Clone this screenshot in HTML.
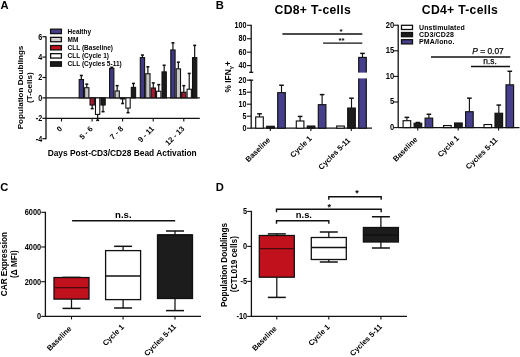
<!DOCTYPE html>
<html><head><meta charset="utf-8"><style>
html,body{margin:0;padding:0;background:#fff;}
svg{display:block;will-change:transform;}
</style></head><body>
<svg width="520" height="357" viewBox="0 0 520 357">
<rect width="520" height="357" fill="#fff"/>
<text x="0.40" y="8.90" font-size="11.2" text-anchor="start" font-family="Liberation Sans, sans-serif" font-weight="bold" >A</text>
<line x1="46.00" y1="36.20" x2="46.00" y2="139.20" stroke="#111" stroke-width="1.3"/>
<line x1="42.40" y1="36.70" x2="46.00" y2="36.70" stroke="#111" stroke-width="1.2"/>
<text x="0" y="0" font-size="7.2" text-anchor="end" transform="translate(42.20 39.50) scale(1 1.15)" font-family="Liberation Sans, sans-serif" font-weight="bold" >6</text>
<line x1="42.40" y1="57.10" x2="46.00" y2="57.10" stroke="#111" stroke-width="1.2"/>
<text x="0" y="0" font-size="7.2" text-anchor="end" transform="translate(42.20 59.90) scale(1 1.15)" font-family="Liberation Sans, sans-serif" font-weight="bold" >4</text>
<line x1="42.40" y1="77.50" x2="46.00" y2="77.50" stroke="#111" stroke-width="1.2"/>
<text x="0" y="0" font-size="7.2" text-anchor="end" transform="translate(42.20 80.30) scale(1 1.15)" font-family="Liberation Sans, sans-serif" font-weight="bold" >2</text>
<line x1="42.40" y1="97.90" x2="46.00" y2="97.90" stroke="#111" stroke-width="1.2"/>
<text x="0" y="0" font-size="7.2" text-anchor="end" transform="translate(42.20 100.70) scale(1 1.15)" font-family="Liberation Sans, sans-serif" font-weight="bold" >0</text>
<line x1="42.40" y1="118.30" x2="46.00" y2="118.30" stroke="#111" stroke-width="1.2"/>
<text x="0" y="0" font-size="7.2" text-anchor="end" transform="translate(42.20 121.10) scale(1 1.15)" font-family="Liberation Sans, sans-serif" font-weight="bold" >-2</text>
<line x1="42.40" y1="138.70" x2="46.00" y2="138.70" stroke="#111" stroke-width="1.2"/>
<text x="0" y="0" font-size="7.2" text-anchor="end" transform="translate(42.20 141.50) scale(1 1.15)" font-family="Liberation Sans, sans-serif" font-weight="bold" >-4</text>
<line x1="46.00" y1="97.90" x2="199.80" y2="97.90" stroke="#111" stroke-width="1.3"/>
<line x1="46.00" y1="118.30" x2="199.80" y2="118.30" stroke="#111" stroke-width="1.3"/>
<line x1="61.50" y1="118.30" x2="61.50" y2="121.50" stroke="#111" stroke-width="1.1"/>
<text x="62.70" y="129.30" font-size="7.6" text-anchor="end" transform="rotate(-45 62.70 129.30)" font-family="Liberation Sans, sans-serif" font-weight="bold" >0</text>
<line x1="92.10" y1="118.30" x2="92.10" y2="121.50" stroke="#111" stroke-width="1.1"/>
<text x="93.30" y="129.30" font-size="7.6" text-anchor="end" transform="rotate(-45 93.30 129.30)" font-family="Liberation Sans, sans-serif" font-weight="bold" >5 - 6</text>
<line x1="122.60" y1="118.30" x2="122.60" y2="121.50" stroke="#111" stroke-width="1.1"/>
<text x="123.80" y="129.30" font-size="7.6" text-anchor="end" transform="rotate(-45 123.80 129.30)" font-family="Liberation Sans, sans-serif" font-weight="bold" >7 - 8</text>
<line x1="153.20" y1="118.30" x2="153.20" y2="121.50" stroke="#111" stroke-width="1.1"/>
<text x="154.40" y="129.30" font-size="7.6" text-anchor="end" transform="rotate(-45 154.40 129.30)" font-family="Liberation Sans, sans-serif" font-weight="bold" >9 - 11</text>
<line x1="183.80" y1="118.30" x2="183.80" y2="121.50" stroke="#111" stroke-width="1.1"/>
<text x="185.00" y="129.30" font-size="7.6" text-anchor="end" transform="rotate(-45 185.00 129.30)" font-family="Liberation Sans, sans-serif" font-weight="bold" >12 - 13</text>
<text x="122.20" y="156.40" font-size="8.38" text-anchor="middle" font-family="Liberation Sans, sans-serif" font-weight="bold" >Days Post-CD3/CD28 Bead Activation</text>
<text x="23.10" y="87.50" font-size="8.1" text-anchor="middle" transform="rotate(-90 23.10 87.50)" font-family="Liberation Sans, sans-serif" font-weight="bold" >Population Doublings</text>
<text x="32.30" y="87.70" font-size="8.1" text-anchor="middle" transform="rotate(-90 32.30 87.70)" font-family="Liberation Sans, sans-serif" font-weight="bold" >(T-cells)</text>
<rect x="50.60" y="29.20" width="10.80" height="4.40" fill="#463f8c" stroke="#111" stroke-width="1.3"/>
<text x="67.60" y="33.70" font-size="6.5" text-anchor="start" font-family="Liberation Sans, sans-serif" font-weight="bold" >Healthy</text>
<rect x="50.60" y="37.35" width="10.80" height="4.40" fill="#d4d2d3" stroke="#111" stroke-width="1.3"/>
<text x="67.60" y="41.85" font-size="6.5" text-anchor="start" font-family="Liberation Sans, sans-serif" font-weight="bold" >MM</text>
<rect x="50.60" y="45.50" width="10.80" height="4.40" fill="#c0111c" stroke="#111" stroke-width="1.3"/>
<text x="67.60" y="50.00" font-size="6.5" text-anchor="start" font-family="Liberation Sans, sans-serif" font-weight="bold" >CLL (Baseline)</text>
<rect x="50.60" y="53.65" width="10.80" height="4.40" fill="#fff" stroke="#111" stroke-width="1.3"/>
<text x="67.60" y="58.15" font-size="6.5" text-anchor="start" font-family="Liberation Sans, sans-serif" font-weight="bold" >CLL (Cycle 1)</text>
<rect x="50.60" y="61.80" width="10.80" height="4.40" fill="#1c1c1c" stroke="#111" stroke-width="1.3"/>
<text x="67.60" y="66.30" font-size="6.5" text-anchor="start" font-family="Liberation Sans, sans-serif" font-weight="bold" >CLL (Cycles 5-11)</text>
<line x1="81.34" y1="79.54" x2="81.34" y2="75.46" stroke="#111" stroke-width="1.2"/>
<line x1="79.84" y1="75.46" x2="82.84" y2="75.46" stroke="#111" stroke-width="1.56"/>
<rect x="79.19" y="79.54" width="4.30" height="18.36" fill="#3f3883" stroke="#111" stroke-width="1.1"/>
<line x1="86.77" y1="87.70" x2="86.77" y2="84.13" stroke="#111" stroke-width="1.2"/>
<line x1="85.27" y1="84.13" x2="88.27" y2="84.13" stroke="#111" stroke-width="1.56"/>
<rect x="84.62" y="87.70" width="4.30" height="10.20" fill="#c8c6c7" stroke="#111" stroke-width="1.1"/>
<line x1="92.20" y1="105.04" x2="92.20" y2="108.61" stroke="#111" stroke-width="1.2"/>
<line x1="90.70" y1="108.61" x2="93.70" y2="108.61" stroke="#111" stroke-width="1.56"/>
<rect x="90.05" y="97.90" width="4.30" height="7.14" fill="#a3192f" stroke="#111" stroke-width="1.1"/>
<line x1="97.63" y1="114.42" x2="97.63" y2="120.34" stroke="#111" stroke-width="1.2"/>
<line x1="96.13" y1="120.34" x2="99.13" y2="120.34" stroke="#111" stroke-width="1.56"/>
<rect x="95.48" y="97.90" width="4.30" height="16.52" fill="#fff" stroke="#111" stroke-width="1.1"/>
<line x1="103.06" y1="105.04" x2="103.06" y2="111.67" stroke="#111" stroke-width="1.2"/>
<line x1="101.56" y1="111.67" x2="104.56" y2="111.67" stroke="#111" stroke-width="1.56"/>
<rect x="100.91" y="97.90" width="4.30" height="7.14" fill="#1c1c1c" stroke="#111" stroke-width="1.1"/>
<line x1="111.74" y1="68.32" x2="111.74" y2="67.30" stroke="#111" stroke-width="1.2"/>
<line x1="110.24" y1="67.30" x2="113.24" y2="67.30" stroke="#111" stroke-width="1.56"/>
<rect x="109.59" y="68.32" width="4.30" height="29.58" fill="#3f3883" stroke="#111" stroke-width="1.1"/>
<line x1="117.17" y1="90.96" x2="117.17" y2="85.66" stroke="#111" stroke-width="1.2"/>
<line x1="115.67" y1="85.66" x2="118.67" y2="85.66" stroke="#111" stroke-width="1.56"/>
<rect x="115.02" y="90.96" width="4.30" height="6.94" fill="#c8c6c7" stroke="#111" stroke-width="1.1"/>
<line x1="122.60" y1="98.92" x2="122.60" y2="103.51" stroke="#111" stroke-width="1.2"/>
<line x1="121.10" y1="103.51" x2="124.10" y2="103.51" stroke="#111" stroke-width="1.56"/>
<rect x="120.45" y="97.90" width="4.30" height="1.02" fill="#a3192f" stroke="#111" stroke-width="1.1"/>
<line x1="128.03" y1="108.10" x2="128.03" y2="112.69" stroke="#111" stroke-width="1.2"/>
<line x1="126.53" y1="112.69" x2="129.53" y2="112.69" stroke="#111" stroke-width="1.56"/>
<rect x="125.88" y="97.90" width="4.30" height="10.20" fill="#fff" stroke="#111" stroke-width="1.1"/>
<line x1="133.46" y1="87.39" x2="133.46" y2="83.42" stroke="#111" stroke-width="1.2"/>
<line x1="131.96" y1="83.42" x2="134.96" y2="83.42" stroke="#111" stroke-width="1.56"/>
<rect x="131.31" y="87.39" width="4.30" height="10.51" fill="#1c1c1c" stroke="#111" stroke-width="1.1"/>
<line x1="142.44" y1="57.61" x2="142.44" y2="55.06" stroke="#111" stroke-width="1.2"/>
<line x1="140.94" y1="55.06" x2="143.94" y2="55.06" stroke="#111" stroke-width="1.56"/>
<rect x="140.29" y="57.61" width="4.30" height="40.29" fill="#3f3883" stroke="#111" stroke-width="1.1"/>
<line x1="147.87" y1="73.73" x2="147.87" y2="66.79" stroke="#111" stroke-width="1.2"/>
<line x1="146.37" y1="66.79" x2="149.37" y2="66.79" stroke="#111" stroke-width="1.56"/>
<rect x="145.72" y="73.73" width="4.30" height="24.17" fill="#c8c6c7" stroke="#111" stroke-width="1.1"/>
<line x1="153.30" y1="88.01" x2="153.30" y2="82.91" stroke="#111" stroke-width="1.2"/>
<line x1="151.80" y1="82.91" x2="154.80" y2="82.91" stroke="#111" stroke-width="1.56"/>
<rect x="151.15" y="88.01" width="4.30" height="9.89" fill="#a3192f" stroke="#111" stroke-width="1.1"/>
<line x1="158.73" y1="91.27" x2="158.73" y2="84.64" stroke="#111" stroke-width="1.2"/>
<line x1="157.23" y1="84.64" x2="160.23" y2="84.64" stroke="#111" stroke-width="1.56"/>
<rect x="156.58" y="91.27" width="4.30" height="6.63" fill="#fff" stroke="#111" stroke-width="1.1"/>
<line x1="164.16" y1="71.89" x2="164.16" y2="65.26" stroke="#111" stroke-width="1.2"/>
<line x1="162.66" y1="65.26" x2="165.66" y2="65.26" stroke="#111" stroke-width="1.56"/>
<rect x="162.01" y="71.89" width="4.30" height="26.01" fill="#1c1c1c" stroke="#111" stroke-width="1.1"/>
<line x1="172.94" y1="49.96" x2="172.94" y2="42.82" stroke="#111" stroke-width="1.2"/>
<line x1="171.44" y1="42.82" x2="174.44" y2="42.82" stroke="#111" stroke-width="1.56"/>
<rect x="170.79" y="49.96" width="4.30" height="47.94" fill="#3f3883" stroke="#111" stroke-width="1.1"/>
<line x1="178.37" y1="68.83" x2="178.37" y2="62.20" stroke="#111" stroke-width="1.2"/>
<line x1="176.87" y1="62.20" x2="179.87" y2="62.20" stroke="#111" stroke-width="1.56"/>
<rect x="176.22" y="68.83" width="4.30" height="29.07" fill="#c8c6c7" stroke="#111" stroke-width="1.1"/>
<line x1="183.80" y1="92.29" x2="183.80" y2="85.66" stroke="#111" stroke-width="1.2"/>
<line x1="182.30" y1="85.66" x2="185.30" y2="85.66" stroke="#111" stroke-width="1.56"/>
<rect x="181.65" y="92.29" width="4.30" height="5.61" fill="#a3192f" stroke="#111" stroke-width="1.1"/>
<line x1="189.23" y1="89.23" x2="189.23" y2="73.42" stroke="#111" stroke-width="1.2"/>
<line x1="187.73" y1="73.42" x2="190.73" y2="73.42" stroke="#111" stroke-width="1.56"/>
<rect x="187.08" y="89.23" width="4.30" height="8.67" fill="#fff" stroke="#111" stroke-width="1.1"/>
<line x1="194.66" y1="57.61" x2="194.66" y2="45.37" stroke="#111" stroke-width="1.2"/>
<line x1="193.16" y1="45.37" x2="196.16" y2="45.37" stroke="#111" stroke-width="1.56"/>
<rect x="192.51" y="57.61" width="4.30" height="40.29" fill="#1c1c1c" stroke="#111" stroke-width="1.1"/>
<text x="215.80" y="9.00" font-size="11.2" text-anchor="start" font-family="Liberation Sans, sans-serif" font-weight="bold" >B</text>
<text x="312.80" y="13.70" font-size="12.2" text-anchor="middle" font-family="Liberation Sans, sans-serif" font-weight="bold" letter-spacing="0.3">CD8+ T-cells</text>
<line x1="251.20" y1="24.80" x2="251.20" y2="72.32" stroke="#111" stroke-width="1.3"/>
<line x1="249.20" y1="72.32" x2="253.20" y2="72.32" stroke="#111" stroke-width="1.3"/>
<line x1="247.00" y1="25.30" x2="251.20" y2="25.30" stroke="#111" stroke-width="1.1"/>
<text x="0" y="0" font-size="7.2" text-anchor="end" transform="translate(246.60 27.90) scale(1 1.15)" font-family="Liberation Sans, sans-serif" font-weight="bold" >100</text>
<line x1="247.00" y1="38.73" x2="251.20" y2="38.73" stroke="#111" stroke-width="1.1"/>
<text x="0" y="0" font-size="7.2" text-anchor="end" transform="translate(246.60 41.33) scale(1 1.15)" font-family="Liberation Sans, sans-serif" font-weight="bold" >80</text>
<line x1="247.00" y1="52.17" x2="251.20" y2="52.17" stroke="#111" stroke-width="1.1"/>
<text x="0" y="0" font-size="7.2" text-anchor="end" transform="translate(246.60 54.77) scale(1 1.15)" font-family="Liberation Sans, sans-serif" font-weight="bold" >60</text>
<line x1="247.00" y1="65.60" x2="251.20" y2="65.60" stroke="#111" stroke-width="1.1"/>
<text x="0" y="0" font-size="7.2" text-anchor="end" transform="translate(246.60 68.20) scale(1 1.15)" font-family="Liberation Sans, sans-serif" font-weight="bold" >40</text>
<line x1="251.20" y1="80.20" x2="251.20" y2="128.70" stroke="#111" stroke-width="1.3"/>
<line x1="249.20" y1="80.20" x2="253.20" y2="80.20" stroke="#111" stroke-width="1.3"/>
<line x1="247.00" y1="80.20" x2="251.20" y2="80.20" stroke="#111" stroke-width="1.1"/>
<text x="0" y="0" font-size="7.2" text-anchor="end" transform="translate(246.60 82.80) scale(1 1.15)" font-family="Liberation Sans, sans-serif" font-weight="bold" >20</text>
<line x1="247.00" y1="92.20" x2="251.20" y2="92.20" stroke="#111" stroke-width="1.1"/>
<text x="0" y="0" font-size="7.2" text-anchor="end" transform="translate(246.60 94.80) scale(1 1.15)" font-family="Liberation Sans, sans-serif" font-weight="bold" >15</text>
<line x1="247.00" y1="104.20" x2="251.20" y2="104.20" stroke="#111" stroke-width="1.1"/>
<text x="0" y="0" font-size="7.2" text-anchor="end" transform="translate(246.60 106.80) scale(1 1.15)" font-family="Liberation Sans, sans-serif" font-weight="bold" >10</text>
<line x1="247.00" y1="116.20" x2="251.20" y2="116.20" stroke="#111" stroke-width="1.1"/>
<text x="0" y="0" font-size="7.2" text-anchor="end" transform="translate(246.60 118.80) scale(1 1.15)" font-family="Liberation Sans, sans-serif" font-weight="bold" >5</text>
<line x1="247.00" y1="128.20" x2="251.20" y2="128.20" stroke="#111" stroke-width="1.1"/>
<text x="0" y="0" font-size="7.2" text-anchor="end" transform="translate(246.60 130.80) scale(1 1.15)" font-family="Liberation Sans, sans-serif" font-weight="bold" >0</text>
<line x1="251.20" y1="128.20" x2="372.00" y2="128.20" stroke="#111" stroke-width="1.3"/>
<text x="230.90" y="76.80" font-size="8.4" text-anchor="middle" transform="rotate(-90 230.90 76.80)" font-family="Liberation Sans, sans-serif" font-weight="bold" >% IFN<tspan font-size="5.8" dy="1.8">γ</tspan><tspan dy="-1.8">+</tspan></text>
<line x1="259.50" y1="116.92" x2="259.50" y2="113.80" stroke="#111" stroke-width="1.15"/>
<line x1="257.20" y1="113.80" x2="261.80" y2="113.80" stroke="#111" stroke-width="1.4949999999999999"/>
<rect x="255.70" y="116.92" width="7.60" height="11.28" fill="#fff" stroke="#111" stroke-width="1.15"/>
<rect x="266.70" y="126.28" width="7.60" height="1.92" fill="#1c1c1c" stroke="#111" stroke-width="1.15"/>
<line x1="281.50" y1="92.68" x2="281.50" y2="85.24" stroke="#111" stroke-width="1.15"/>
<line x1="279.20" y1="85.24" x2="283.80" y2="85.24" stroke="#111" stroke-width="1.4949999999999999"/>
<rect x="277.70" y="92.68" width="7.60" height="35.52" fill="#463f8c" stroke="#111" stroke-width="1.15"/>
<line x1="270.30" y1="128.20" x2="270.30" y2="131.00" stroke="#111" stroke-width="1.1"/>
<line x1="300.10" y1="121.00" x2="300.10" y2="116.44" stroke="#111" stroke-width="1.15"/>
<line x1="297.80" y1="116.44" x2="302.40" y2="116.44" stroke="#111" stroke-width="1.4949999999999999"/>
<rect x="296.30" y="121.00" width="7.60" height="7.20" fill="#fff" stroke="#111" stroke-width="1.15"/>
<rect x="307.30" y="126.04" width="7.60" height="2.16" fill="#1c1c1c" stroke="#111" stroke-width="1.15"/>
<line x1="322.10" y1="104.68" x2="322.10" y2="94.60" stroke="#111" stroke-width="1.15"/>
<line x1="319.80" y1="94.60" x2="324.40" y2="94.60" stroke="#111" stroke-width="1.4949999999999999"/>
<rect x="318.30" y="104.68" width="7.60" height="23.52" fill="#463f8c" stroke="#111" stroke-width="1.15"/>
<line x1="310.90" y1="128.20" x2="310.90" y2="131.00" stroke="#111" stroke-width="1.1"/>
<rect x="336.70" y="126.04" width="7.60" height="2.16" fill="#fff" stroke="#111" stroke-width="1.15"/>
<line x1="351.50" y1="108.04" x2="351.50" y2="98.20" stroke="#111" stroke-width="1.15"/>
<line x1="349.20" y1="98.20" x2="353.80" y2="98.20" stroke="#111" stroke-width="1.4949999999999999"/>
<rect x="347.70" y="108.04" width="7.60" height="20.16" fill="#1c1c1c" stroke="#111" stroke-width="1.15"/>
<line x1="362.50" y1="57.41" x2="362.50" y2="53.38" stroke="#111" stroke-width="1.15"/>
<line x1="360.20" y1="53.38" x2="364.80" y2="53.38" stroke="#111" stroke-width="1.4949999999999999"/>
<rect x="358.70" y="57.41" width="7.60" height="70.79" fill="#463f8c" stroke="#111" stroke-width="1.15"/>
<rect x="357.70" y="72.6" width="10" height="5.8" fill="#fff"/>
<line x1="351.30" y1="128.20" x2="351.30" y2="131.00" stroke="#111" stroke-width="1.1"/>
<text x="270.70" y="140.40" font-size="7.6" text-anchor="end" transform="rotate(-45 270.70 140.40)" font-family="Liberation Sans, sans-serif" font-weight="bold" >Baseline</text>
<text x="312.20" y="139.10" font-size="7.6" text-anchor="end" transform="rotate(-45 312.20 139.10)" font-family="Liberation Sans, sans-serif" font-weight="bold" >Cycle 1</text>
<text x="350.80" y="140.90" font-size="7.6" text-anchor="end" transform="rotate(-45 350.80 140.90)" font-family="Liberation Sans, sans-serif" font-weight="bold" >Cycles 5-11</text>
<line x1="282.40" y1="34.00" x2="362.30" y2="34.00" stroke="#111" stroke-width="1.4"/>
<text x="341.00" y="34.20" font-size="8" text-anchor="middle" font-family="Liberation Sans, sans-serif" font-weight="bold" >*</text>
<line x1="323.10" y1="43.10" x2="362.30" y2="43.10" stroke="#111" stroke-width="1.4"/>
<text x="341.60" y="43.00" font-size="8" text-anchor="middle" font-family="Liberation Sans, sans-serif" font-weight="bold" >**</text>
<text x="460.00" y="13.70" font-size="12.2" text-anchor="middle" font-family="Liberation Sans, sans-serif" font-weight="bold" letter-spacing="0.3">CD4+ T-cells</text>
<line x1="398.20" y1="24.70" x2="398.20" y2="128.10" stroke="#111" stroke-width="1.3"/>
<line x1="394.00" y1="25.20" x2="398.20" y2="25.20" stroke="#111" stroke-width="1.1"/>
<text x="0" y="0" font-size="7.6" text-anchor="end" transform="translate(394.30 27.60) scale(1 1.15)" font-family="Liberation Sans, sans-serif" font-weight="bold" >20</text>
<line x1="394.00" y1="50.80" x2="398.20" y2="50.80" stroke="#111" stroke-width="1.1"/>
<text x="0" y="0" font-size="7.6" text-anchor="end" transform="translate(394.30 53.20) scale(1 1.15)" font-family="Liberation Sans, sans-serif" font-weight="bold" >15</text>
<line x1="394.00" y1="76.40" x2="398.20" y2="76.40" stroke="#111" stroke-width="1.1"/>
<text x="0" y="0" font-size="7.6" text-anchor="end" transform="translate(394.30 78.80) scale(1 1.15)" font-family="Liberation Sans, sans-serif" font-weight="bold" >10</text>
<line x1="394.00" y1="102.00" x2="398.20" y2="102.00" stroke="#111" stroke-width="1.1"/>
<text x="0" y="0" font-size="7.6" text-anchor="end" transform="translate(394.30 104.40) scale(1 1.15)" font-family="Liberation Sans, sans-serif" font-weight="bold" >5</text>
<line x1="394.00" y1="127.60" x2="398.20" y2="127.60" stroke="#111" stroke-width="1.1"/>
<text x="0" y="0" font-size="7.6" text-anchor="end" transform="translate(394.30 130.00) scale(1 1.15)" font-family="Liberation Sans, sans-serif" font-weight="bold" >0</text>
<line x1="398.20" y1="127.60" x2="519.50" y2="127.60" stroke="#111" stroke-width="1.3"/>
<line x1="406.90" y1="120.69" x2="406.90" y2="117.36" stroke="#111" stroke-width="1.15"/>
<line x1="404.60" y1="117.36" x2="409.20" y2="117.36" stroke="#111" stroke-width="1.4949999999999999"/>
<rect x="403.10" y="120.69" width="7.60" height="6.91" fill="#fff" stroke="#111" stroke-width="1.15"/>
<line x1="417.90" y1="123.25" x2="417.90" y2="122.48" stroke="#111" stroke-width="1.15"/>
<line x1="415.60" y1="122.48" x2="420.20" y2="122.48" stroke="#111" stroke-width="1.4949999999999999"/>
<rect x="414.10" y="123.25" width="7.60" height="4.35" fill="#1c1c1c" stroke="#111" stroke-width="1.15"/>
<line x1="428.90" y1="118.13" x2="428.90" y2="114.29" stroke="#111" stroke-width="1.15"/>
<line x1="426.60" y1="114.29" x2="431.20" y2="114.29" stroke="#111" stroke-width="1.4949999999999999"/>
<rect x="425.10" y="118.13" width="7.60" height="9.47" fill="#463f8c" stroke="#111" stroke-width="1.15"/>
<line x1="417.70" y1="127.60" x2="417.70" y2="130.40" stroke="#111" stroke-width="1.1"/>
<rect x="443.60" y="125.55" width="7.60" height="2.05" fill="#fff" stroke="#111" stroke-width="1.15"/>
<rect x="454.60" y="122.99" width="7.60" height="4.61" fill="#1c1c1c" stroke="#111" stroke-width="1.15"/>
<line x1="469.40" y1="111.73" x2="469.40" y2="98.16" stroke="#111" stroke-width="1.15"/>
<line x1="467.10" y1="98.16" x2="471.70" y2="98.16" stroke="#111" stroke-width="1.4949999999999999"/>
<rect x="465.60" y="111.73" width="7.60" height="15.87" fill="#463f8c" stroke="#111" stroke-width="1.15"/>
<line x1="458.20" y1="127.60" x2="458.20" y2="130.40" stroke="#111" stroke-width="1.1"/>
<rect x="484.00" y="124.53" width="7.60" height="3.07" fill="#fff" stroke="#111" stroke-width="1.15"/>
<line x1="498.80" y1="113.26" x2="498.80" y2="105.07" stroke="#111" stroke-width="1.15"/>
<line x1="496.50" y1="105.07" x2="501.10" y2="105.07" stroke="#111" stroke-width="1.4949999999999999"/>
<rect x="495.00" y="113.26" width="7.60" height="14.34" fill="#1c1c1c" stroke="#111" stroke-width="1.15"/>
<line x1="509.80" y1="84.85" x2="509.80" y2="71.28" stroke="#111" stroke-width="1.15"/>
<line x1="507.50" y1="71.28" x2="512.10" y2="71.28" stroke="#111" stroke-width="1.4949999999999999"/>
<rect x="506.00" y="84.85" width="7.60" height="42.75" fill="#463f8c" stroke="#111" stroke-width="1.15"/>
<line x1="498.60" y1="127.60" x2="498.60" y2="130.40" stroke="#111" stroke-width="1.1"/>
<text x="418.10" y="140.00" font-size="7.6" text-anchor="end" transform="rotate(-45 418.10 140.00)" font-family="Liberation Sans, sans-serif" font-weight="bold" >Baseline</text>
<text x="459.50" y="138.70" font-size="7.6" text-anchor="end" transform="rotate(-45 459.50 138.70)" font-family="Liberation Sans, sans-serif" font-weight="bold" >Cycle 1</text>
<text x="498.10" y="140.50" font-size="7.6" text-anchor="end" transform="rotate(-45 498.10 140.50)" font-family="Liberation Sans, sans-serif" font-weight="bold" >Cycles 5-11</text>
<rect x="401.50" y="25.30" width="11.00" height="4.20" fill="#fff" stroke="#111" stroke-width="1.3"/>
<text x="419.00" y="29.80" font-size="7" text-anchor="start" font-family="Liberation Sans, sans-serif" font-weight="bold" letter-spacing="0.14">Unstimulated</text>
<rect x="401.50" y="32.50" width="11.00" height="4.20" fill="#1c1c1c" stroke="#111" stroke-width="1.3"/>
<text x="419.00" y="37.00" font-size="7" text-anchor="start" font-family="Liberation Sans, sans-serif" font-weight="bold" letter-spacing="0.14">CD3/CD28</text>
<rect x="401.50" y="39.70" width="11.00" height="4.20" fill="#463f8c" stroke="#111" stroke-width="1.3"/>
<text x="419.00" y="44.20" font-size="7" text-anchor="start" font-family="Liberation Sans, sans-serif" font-weight="bold" letter-spacing="0.14">PMA/Iono.</text>
<line x1="431.00" y1="57.10" x2="510.40" y2="57.10" stroke="#111" stroke-width="1.5"/>
<text x="488.00" y="54.30" font-size="8.4" text-anchor="middle" font-family="Liberation Sans, sans-serif" font-weight="bold" style="font-weight:normal" stroke="#111" stroke-width="0.25"><tspan font-style="italic">P</tspan> = 0.07</text>
<line x1="471.00" y1="66.40" x2="510.00" y2="66.40" stroke="#111" stroke-width="1.5"/>
<text x="490.10" y="64.40" font-size="8.4" text-anchor="middle" font-family="Liberation Sans, sans-serif" font-weight="bold" style="font-weight:normal" stroke="#111" stroke-width="0.25">n.s.</text>
<text x="0.30" y="190.90" font-size="11.2" text-anchor="start" font-family="Liberation Sans, sans-serif" font-weight="bold" >C</text>
<line x1="45.40" y1="211.80" x2="45.40" y2="316.90" stroke="#111" stroke-width="1.3"/>
<line x1="41.20" y1="212.30" x2="45.40" y2="212.30" stroke="#111" stroke-width="1.1"/>
<text x="0" y="0" font-size="7.4" text-anchor="end" transform="translate(41.20 215.10) scale(1 1.15)" font-family="Liberation Sans, sans-serif" font-weight="bold" >6000</text>
<line x1="41.20" y1="247.00" x2="45.40" y2="247.00" stroke="#111" stroke-width="1.1"/>
<text x="0" y="0" font-size="7.4" text-anchor="end" transform="translate(41.20 249.80) scale(1 1.15)" font-family="Liberation Sans, sans-serif" font-weight="bold" >4000</text>
<line x1="41.20" y1="281.70" x2="45.40" y2="281.70" stroke="#111" stroke-width="1.1"/>
<text x="0" y="0" font-size="7.4" text-anchor="end" transform="translate(41.20 284.50) scale(1 1.15)" font-family="Liberation Sans, sans-serif" font-weight="bold" >2000</text>
<line x1="41.20" y1="316.40" x2="45.40" y2="316.40" stroke="#111" stroke-width="1.1"/>
<text x="0" y="0" font-size="7.4" text-anchor="end" transform="translate(41.20 319.20) scale(1 1.15)" font-family="Liberation Sans, sans-serif" font-weight="bold" >0</text>
<line x1="45.40" y1="316.40" x2="201.00" y2="316.40" stroke="#111" stroke-width="1.3"/>
<line x1="71.50" y1="277.40" x2="71.50" y2="277.54" stroke="#111" stroke-width="1.25"/>
<line x1="62.50" y1="277.40" x2="80.50" y2="277.40" stroke="#111" stroke-width="1.5"/>
<line x1="71.50" y1="299.10" x2="71.50" y2="308.40" stroke="#111" stroke-width="1.25"/>
<line x1="62.50" y1="308.40" x2="80.50" y2="308.40" stroke="#111" stroke-width="1.5"/>
<rect x="54.00" y="277.54" width="35.00" height="21.57" fill="#c0111c" stroke="#111" stroke-width="1.3"/>
<line x1="54.00" y1="287.70" x2="89.00" y2="287.70" stroke="#4a0a0c" stroke-width="1.3"/>
<line x1="71.50" y1="316.40" x2="71.50" y2="319.40" stroke="#111" stroke-width="1.1"/>
<line x1="123.10" y1="246.31" x2="123.10" y2="250.61" stroke="#111" stroke-width="1.25"/>
<line x1="114.10" y1="246.31" x2="132.10" y2="246.31" stroke="#111" stroke-width="1.5"/>
<line x1="123.10" y1="299.61" x2="123.10" y2="308.00" stroke="#111" stroke-width="1.25"/>
<line x1="114.10" y1="308.00" x2="132.10" y2="308.00" stroke="#111" stroke-width="1.5"/>
<rect x="105.60" y="250.61" width="35.00" height="49.00" fill="#fff" stroke="#111" stroke-width="1.3"/>
<line x1="105.60" y1="276.01" x2="140.60" y2="276.01" stroke="#111" stroke-width="1.3"/>
<line x1="123.10" y1="316.40" x2="123.10" y2="319.40" stroke="#111" stroke-width="1.1"/>
<line x1="175.00" y1="231.00" x2="175.00" y2="234.99" stroke="#111" stroke-width="1.25"/>
<line x1="166.00" y1="231.00" x2="184.00" y2="231.00" stroke="#111" stroke-width="1.5"/>
<line x1="175.00" y1="298.49" x2="175.00" y2="310.61" stroke="#111" stroke-width="1.25"/>
<line x1="166.00" y1="310.61" x2="184.00" y2="310.61" stroke="#111" stroke-width="1.5"/>
<rect x="157.50" y="234.99" width="35.00" height="63.50" fill="#1c1c1c" stroke="#111" stroke-width="1.3"/>
<line x1="157.50" y1="234.99" x2="192.50" y2="234.99" stroke="#111" stroke-width="1.3"/>
<line x1="175.00" y1="316.40" x2="175.00" y2="319.40" stroke="#111" stroke-width="1.1"/>
<text x="72.00" y="329.20" font-size="7.6" text-anchor="end" transform="rotate(-45 72.00 329.20)" font-family="Liberation Sans, sans-serif" font-weight="bold" >Baseline</text>
<text x="124.50" y="327.50" font-size="7.6" text-anchor="end" transform="rotate(-45 124.50 327.50)" font-family="Liberation Sans, sans-serif" font-weight="bold" >Cycle 1</text>
<text x="176.50" y="327.20" font-size="7.6" text-anchor="end" transform="rotate(-45 176.50 327.20)" font-family="Liberation Sans, sans-serif" font-weight="bold" >Cycles 5-11</text>
<line x1="72.10" y1="220.70" x2="175.20" y2="220.70" stroke="#111" stroke-width="1.4"/>
<text x="123.30" y="218.40" font-size="9.6" text-anchor="middle" font-family="Liberation Sans, sans-serif" font-weight="bold" >n.s.</text>
<text x="7.40" y="264.10" font-size="8.2" text-anchor="middle" transform="rotate(-90 7.40 264.10)" font-family="Liberation Sans, sans-serif" font-weight="bold" >CAR Expression</text>
<text x="17.40" y="264.10" font-size="8.2" text-anchor="middle" transform="rotate(-90 17.40 264.10)" font-family="Liberation Sans, sans-serif" font-weight="bold" >(Δ MFI)</text>
<text x="215.70" y="190.90" font-size="11.2" text-anchor="start" font-family="Liberation Sans, sans-serif" font-weight="bold" >D</text>
<line x1="251.40" y1="210.90" x2="251.40" y2="316.90" stroke="#111" stroke-width="1.3"/>
<line x1="247.20" y1="211.40" x2="251.40" y2="211.40" stroke="#111" stroke-width="1.1"/>
<text x="0" y="0" font-size="7.4" text-anchor="end" transform="translate(247.20 214.20) scale(1 1.15)" font-family="Liberation Sans, sans-serif" font-weight="bold" >5</text>
<line x1="247.20" y1="246.40" x2="251.40" y2="246.40" stroke="#111" stroke-width="1.1"/>
<text x="0" y="0" font-size="7.4" text-anchor="end" transform="translate(247.20 249.20) scale(1 1.15)" font-family="Liberation Sans, sans-serif" font-weight="bold" >0</text>
<line x1="247.20" y1="281.40" x2="251.40" y2="281.40" stroke="#111" stroke-width="1.1"/>
<text x="0" y="0" font-size="7.4" text-anchor="end" transform="translate(247.20 284.20) scale(1 1.15)" font-family="Liberation Sans, sans-serif" font-weight="bold" >-5</text>
<line x1="247.20" y1="316.40" x2="251.40" y2="316.40" stroke="#111" stroke-width="1.1"/>
<text x="0" y="0" font-size="7.4" text-anchor="end" transform="translate(247.20 319.20) scale(1 1.15)" font-family="Liberation Sans, sans-serif" font-weight="bold" >-10</text>
<line x1="251.40" y1="316.40" x2="407.00" y2="316.40" stroke="#111" stroke-width="1.3"/>
<line x1="276.80" y1="233.90" x2="276.80" y2="235.50" stroke="#111" stroke-width="1.25"/>
<line x1="267.80" y1="233.90" x2="285.80" y2="233.90" stroke="#111" stroke-width="1.5"/>
<line x1="276.80" y1="277.20" x2="276.80" y2="297.40" stroke="#111" stroke-width="1.25"/>
<line x1="267.80" y1="297.40" x2="285.80" y2="297.40" stroke="#111" stroke-width="1.5"/>
<rect x="259.30" y="235.50" width="35.00" height="41.70" fill="#c0111c" stroke="#111" stroke-width="1.3"/>
<line x1="259.30" y1="248.60" x2="294.30" y2="248.60" stroke="#4a0a0c" stroke-width="1.3"/>
<line x1="276.80" y1="316.40" x2="276.80" y2="319.40" stroke="#111" stroke-width="1.1"/>
<line x1="328.80" y1="232.00" x2="328.80" y2="237.50" stroke="#111" stroke-width="1.25"/>
<line x1="319.80" y1="232.00" x2="337.80" y2="232.00" stroke="#111" stroke-width="1.5"/>
<line x1="328.80" y1="259.50" x2="328.80" y2="262.00" stroke="#111" stroke-width="1.25"/>
<line x1="319.80" y1="262.00" x2="337.80" y2="262.00" stroke="#111" stroke-width="1.5"/>
<rect x="311.30" y="237.50" width="35.00" height="22.00" fill="#fff" stroke="#111" stroke-width="1.3"/>
<line x1="311.30" y1="247.50" x2="346.30" y2="247.50" stroke="#111" stroke-width="1.3"/>
<line x1="328.80" y1="316.40" x2="328.80" y2="319.40" stroke="#111" stroke-width="1.1"/>
<line x1="380.90" y1="216.75" x2="380.90" y2="227.50" stroke="#111" stroke-width="1.25"/>
<line x1="371.90" y1="216.75" x2="389.90" y2="216.75" stroke="#111" stroke-width="1.5"/>
<line x1="380.90" y1="242.00" x2="380.90" y2="248.00" stroke="#111" stroke-width="1.25"/>
<line x1="371.90" y1="248.00" x2="389.90" y2="248.00" stroke="#111" stroke-width="1.5"/>
<rect x="363.40" y="227.50" width="35.00" height="14.50" fill="#1c1c1c" stroke="#111" stroke-width="1.3"/>
<line x1="363.40" y1="235.00" x2="398.40" y2="235.00" stroke="#111" stroke-width="1.3"/>
<line x1="380.90" y1="316.40" x2="380.90" y2="319.40" stroke="#111" stroke-width="1.1"/>
<text x="277.30" y="329.20" font-size="7.6" text-anchor="end" transform="rotate(-45 277.30 329.20)" font-family="Liberation Sans, sans-serif" font-weight="bold" >Baseline</text>
<text x="330.20" y="327.50" font-size="7.6" text-anchor="end" transform="rotate(-45 330.20 327.50)" font-family="Liberation Sans, sans-serif" font-weight="bold" >Cycle 1</text>
<text x="382.40" y="327.20" font-size="7.6" text-anchor="end" transform="rotate(-45 382.40 327.20)" font-family="Liberation Sans, sans-serif" font-weight="bold" >Cycles 5-11</text>
<polyline points="328.8,199.8 328.8,196.8 381.2,196.8 381.2,199.8" fill="none" stroke="#111" stroke-width="1.4"/>
<text x="357.00" y="196.00" font-size="9" text-anchor="middle" font-family="Liberation Sans, sans-serif" font-weight="bold" >*</text>
<polyline points="276.5,212.3 276.5,209.3 381.2,209.3 381.2,212.3" fill="none" stroke="#111" stroke-width="1.4"/>
<text x="329.30" y="210.00" font-size="9" text-anchor="middle" font-family="Liberation Sans, sans-serif" font-weight="bold" >*</text>
<polyline points="276.5,223.8 276.5,220.8 328.8,220.8 328.8,223.8" fill="none" stroke="#111" stroke-width="1.4"/>
<text x="303.90" y="218.00" font-size="9.4" text-anchor="middle" font-family="Liberation Sans, sans-serif" font-weight="bold" >n.s.</text>
<text x="226.70" y="264.90" font-size="8.15" text-anchor="middle" transform="rotate(-90 226.70 264.90)" font-family="Liberation Sans, sans-serif" font-weight="bold" >Population Doublings</text>
<text x="236.80" y="264.20" font-size="8.3" text-anchor="middle" transform="rotate(-90 236.80 264.20)" font-family="Liberation Sans, sans-serif" font-weight="bold" >(CTL019 cells)</text>
</svg>
</body></html>
